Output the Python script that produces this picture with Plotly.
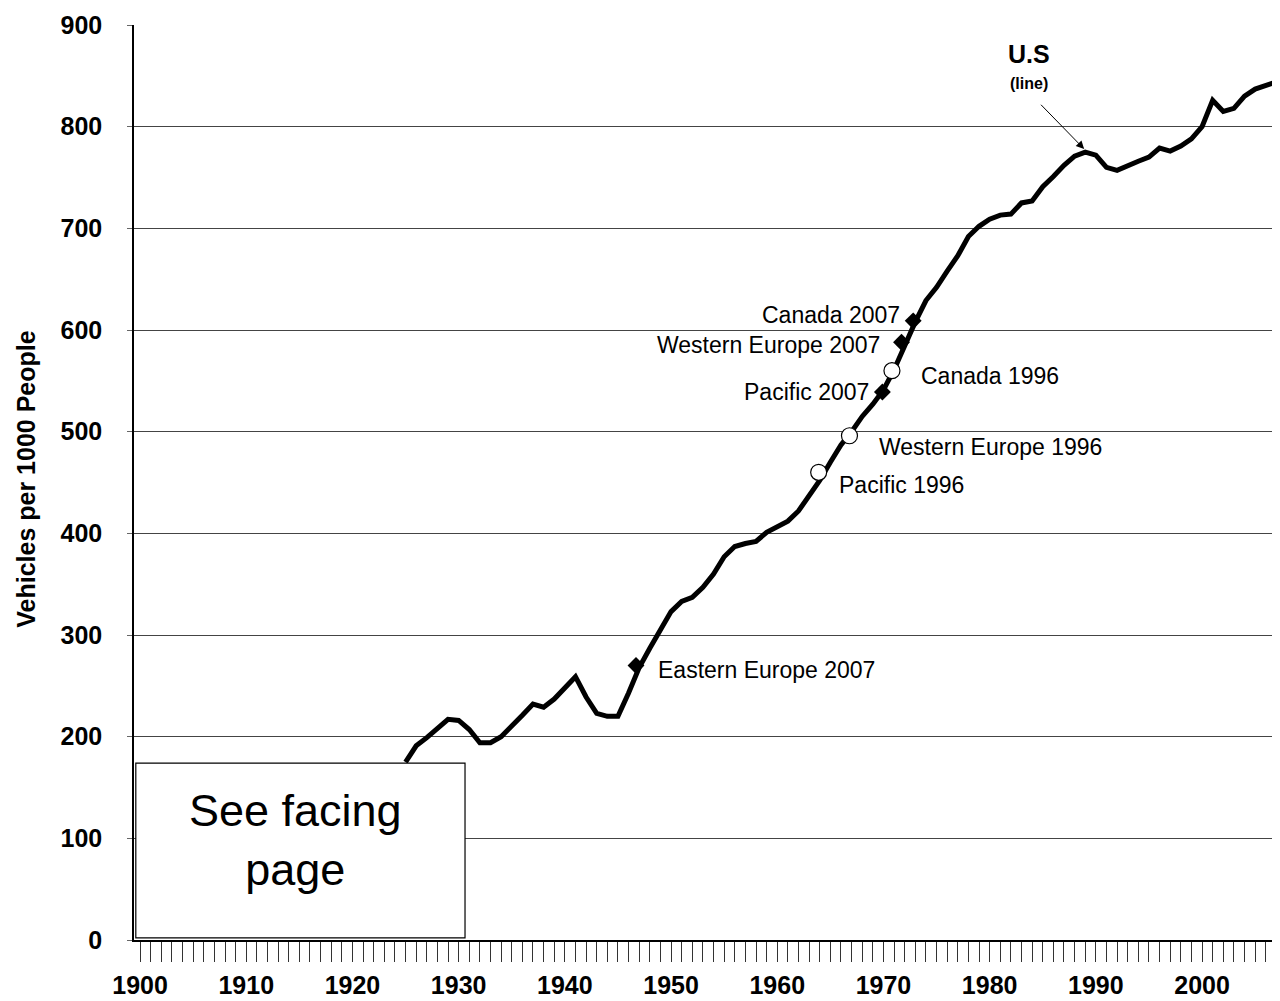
"""U.S. vehicles per 1000 people, 1925-2007, with other regions placed on the U.S. curve"""
import plotly.graph_objects as go

FONT = "Arial, Liberation Sans, sans-serif"

# U.S. vehicles per 1000 people
years = list(range(1925, 2008))
us_vehicles = [
    175, 191, 199, 208, 217, 216, 207, 194, 194, 200,
    210, 221, 232, 229, 237, 248, 259, 239, 223, 220,
    220, 243, 268, 287, 305, 323, 333, 337, 347, 360,
    377, 387, 390, 392, 401, 407, 412, 422, 437, 452,
    470, 487, 500, 515, 527, 541, 561, 585, 608, 629,
    642, 658, 673, 692, 702, 709, 713, 714, 725, 727,
    741, 751, 762, 771, 775, 772, 760, 757, 762, 766,
    770, 779, 776, 781, 788, 800, 826, 815, 818, 830,
    837, 841, 844,
]

# regions placed on the U.S. curve
region_2007 = ["Eastern Europe 2007", "Pacific 2007", "Western Europe 2007", "Canada 2007"]
region_2007_x = [1946.7, 1969.9, 1971.7, 1972.8]
region_2007_y = [270, 539, 588, 609]

region_1996 = ["Pacific 1996", "Western Europe 1996", "Canada 1996"]
region_1996_x = [1963.9, 1966.8, 1970.8]
region_1996_y = [460, 496, 560]

# label anchors: (text, x, y, xanchor)
labels = [
    ("Canada 2007", 1971.75, 615, "right"),
    ("Western Europe 2007", 1969.9, 585, "right"),
    ("Canada 1996", 1973.3, 555, "left"),
    ("Pacific 2007", 1968.8, 539, "right"),
    ("Western Europe 1996", 1969.4, 485, "left"),
    ("Pacific 1996", 1965.6, 448, "left"),
    ("Eastern Europe 2007", 1948.6, 266, "left"),
]

tick_years = list(range(1900, 2008))
tick_text = [str(y) if y % 10 == 0 else "" for y in tick_years]

fig = go.Figure()

fig.add_trace(go.Scatter(
    x=years, y=us_vehicles, mode="lines",
    line=dict(color="black", width=5), showlegend=False,
))
fig.add_trace(go.Scatter(
    x=region_2007_x, y=region_2007_y, mode="markers", text=region_2007,
    marker=dict(symbol="diamond", size=13, color="black"), showlegend=False,
))
fig.add_trace(go.Scatter(
    x=region_1996_x, y=region_1996_y, mode="markers", text=region_1996,
    marker=dict(symbol="circle", size=16, color="white", line=dict(color="black", width=1.2)),
    showlegend=False,
))

for text, x, y, anchor in labels:
    fig.add_annotation(x=x, y=y, text=text, showarrow=False, xanchor=anchor,
                       font=dict(family=FONT, size=23, color="black"))

# U.S label with arrow
fig.add_annotation(x=1983.7, y=871, text="<b>U.S</b>", showarrow=False,
                   font=dict(family=FONT, size=25, color="black"))
fig.add_annotation(x=1983.7, y=842, text="<b>(line)</b>", showarrow=False,
                   font=dict(family=FONT, size=16, color="black"))
fig.add_annotation(x=1988.9, y=778, ax=1984.7, ay=823, axref="x", ayref="y",
                   text="", showarrow=True, arrowhead=2, arrowsize=1.6,
                   arrowwidth=1, arrowcolor="black")

# "See facing page" box covering the early years
fig.add_shape(type="rect", x0=1899.6, x1=1930.6, y0=2, y1=174, layer="above",
              fillcolor="white", line=dict(color="black", width=1.2))
fig.add_annotation(x=1914.6, y=98, text="See facing<br>page", showarrow=False,
                   font=dict(family=FONT, size=45, color="black"))

# y axis title
fig.add_annotation(xref="paper", yref="paper", x=0, y=0.503, xshift=-124,
                   text="<b>Vehicles per 1000 People</b>", textangle=-90,
                   showarrow=False, font=dict(family=FONT, size=25, color="black"))

# page body keeps an 8px margin, so the figure is 8px smaller on each axis
fig.update_layout(
    width=1272, height=993,
    margin=dict(l=126, r=0, t=17, b=61, autoexpand=False),
    plot_bgcolor="white", paper_bgcolor="white",
    font=dict(family=FONT, color="black"),
    showlegend=False,
)
fig.update_xaxes(
    range=[1899.43, 2007.34], tickvals=tick_years, ticktext=tick_text,
    ticks="outside", ticklen=20, tickwidth=1, tickcolor="#333",
    tickfont=dict(family=FONT, size=25, color="black", weight="bold"),
    ticklabelstandoff=2, automargin=False,
    showgrid=False, zeroline=False, showline=True, linecolor="black", linewidth=2,
)
fig.update_yaxes(
    range=[0, 900], dtick=100,
    ticks="outside", ticklen=5, tickcolor="#666",
    tickfont=dict(family=FONT, size=25, color="black", weight="bold"),
    ticklabelstandoff=20, automargin=False,
    showgrid=True, gridcolor="#444", gridwidth=1,
    zeroline=False, showline=True, linecolor="black", linewidth=1.5,
)

fig.write_html("out.html")
